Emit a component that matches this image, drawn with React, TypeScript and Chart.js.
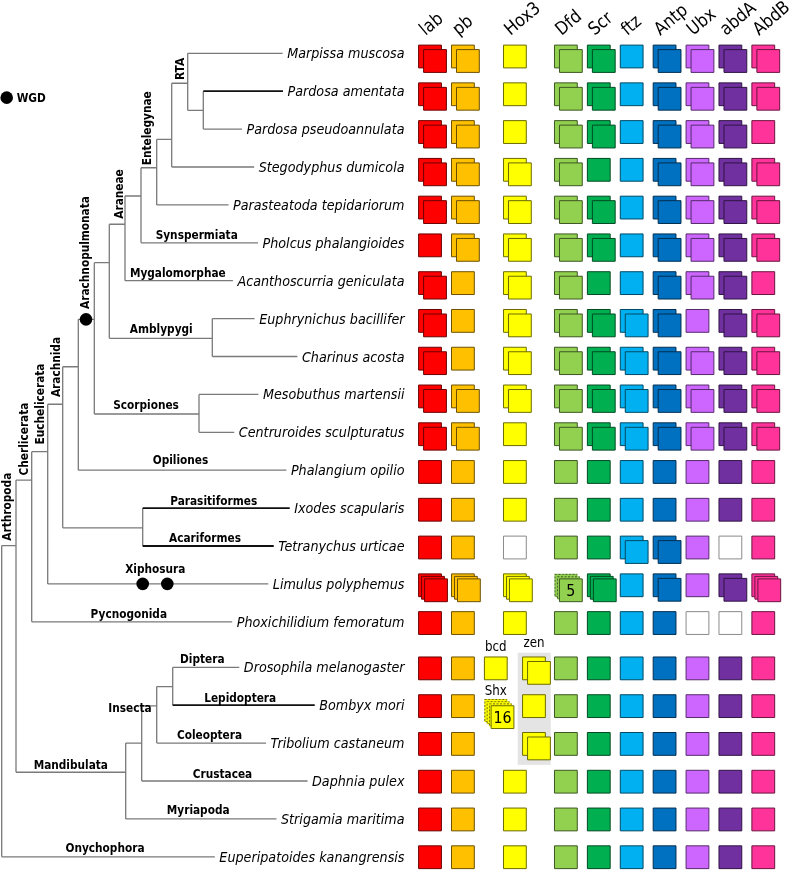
import React, { useEffect, useRef } from 'react';
import { Chart, registerables } from 'chart.js';
Chart.register(...registerables);

// ---------------- data ----------------
const species = [
  'Marpissa muscosa', 'Pardosa amentata', 'Pardosa pseudoannulata', 'Stegodyphus dumicola',
  'Parasteatoda tepidariorum', 'Pholcus phalangioides', 'Acanthoscurria geniculata',
  'Euphrynichus bacillifer', 'Charinus acosta', 'Mesobuthus martensii', 'Centruroides sculpturatus',
  'Phalangium opilio', 'Ixodes scapularis', 'Tetranychus urticae', 'Limulus polyphemus',
  'Phoxichilidium femoratum', 'Drosophila melanogaster', 'Bombyx mori', 'Tribolium castaneum',
  'Daphnia pulex', 'Strigamia maritima', 'Euperipatoides kanangrensis',
];
const firstMandibulateRow = 16;
const groupGap = 0.2;

const genes = ['lab', 'pb', 'Hox3', 'Dfd', 'Scr', 'ftz', 'Antp', 'Ubx', 'abdA', 'AbdB'];
const geneColors = ['#ff0000', '#ffc000', '#ffff00', '#92d050', '#00b050', '#00b0f0', '#0070c0', '#cc66ff', '#7030a0', '#ff3399'];

// copies per species (0 = gene absent, shown as empty box; null = replaced by bcd / zen)
const labCopies = [2, 2, 2, 2, 2, 1, 2, 2, 2, 2, 2, 1, 1, 1, 3, 1, 1, 1, 1, 1, 1, 1];
const pbCopies = [2, 2, 2, 2, 2, 2, 1, 1, 1, 2, 2, 1, 1, 1, 3, 1, 1, 1, 1, 1, 1, 1];
const hox3Copies = [1, 1, 1, 2, 2, 2, 2, 2, 2, 2, 1, 1, 1, 0, 3, 1, null, null, null, 1, 1, 1];
const dfdCopies = [2, 2, 2, 2, 2, 2, 2, 2, 2, 2, 2, 1, 1, 1, 5, 1, 1, 1, 1, 1, 1, 1];
const scrCopies = [2, 2, 2, 1, 2, 2, 1, 2, 2, 2, 2, 1, 1, 1, 3, 1, 1, 1, 1, 1, 1, 1];
const ftzCopies = [1, 1, 1, 1, 1, 1, 1, 2, 2, 2, 2, 1, 1, 2, 1, 1, 1, 1, 1, 1, 1, 1];
const antpCopies = [2, 2, 2, 2, 2, 2, 2, 2, 2, 2, 2, 1, 1, 2, 2, 1, 1, 1, 1, 1, 1, 1];
const ubxCopies = [2, 2, 2, 2, 2, 2, 2, 1, 2, 2, 2, 1, 1, 1, 1, 0, 1, 1, 1, 1, 1, 1];
const abdACopies = [2, 2, 2, 2, 2, 2, 2, 2, 2, 2, 2, 1, 1, 0, 2, 0, 1, 1, 1, 1, 1, 1];
const abdBCopies = [2, 2, 1, 2, 2, 2, 1, 2, 2, 2, 2, 1, 1, 1, 3, 1, 1, 1, 1, 1, 1, 1];
const geneCopies = [labCopies, pbCopies, hox3Copies, dfdCopies, scrCopies, ftzCopies, antpCopies, ubxCopies, abdACopies, abdBCopies];

// insect Hox3-derived genes
const bcdRows = [16];
const bcdCopies = [1];
const zenRows = [16, 17, 18];
const zenCopies = [2, 1, 2];
const shxRows = [17];
const shxCopies = [16];

// whole genome duplication events: [depth, row]
const wgdDepth = [86, 142.7, 167.3];
const wgdRow = [7.02, 14, 14];

// ---------------- layout constants ----------------
const SX = 0.88; // horizontal condensing of DejaVu to mimic Tahoma
const FAM = '"DejaVu Sans", Verdana, sans-serif';
const SPECIES_FONT = `italic 14.5px ${FAM}`;
const CLADE_FONT = `bold 12px ${FAM}`;
const HEAD_FONT = `18px ${FAM}`;
const SMALL_FONT = `13.5px ${FAM}`;
const LABEL_RIGHT = 404.5;
const TIP_GAP = 4.5;

const geneSlot = [0, 1, 2.58, 4.13, 5.13, 6.13, 7.13, 8.13, 9.13, 10.13];
const bcdSlot = 2.0, zenSlot = 3.16, shxSlot = 2.0;

// tree scales (x in px depth, y in rows)
const TREE_Y0 = 53.3, TREE_DY = 37.9;
// table scales
const TAB_X0 = 430, TAB_DX = 32.9, TAB_Y0 = 56.5, TAB_DY = 37.77;
const W = 794, H = 870;
const SQ = 22.8;

const rowPos = (i: number) => i + (i >= firstMandibulateRow ? groupGap : 0);

type TNode = { x: number; y: number; kids: (TNode | number)[] };
const N = (x: number, y: number, kids: (TNode | number)[]): TNode => ({ x, y, kids });

// tree: internal node depth (px) and attachment row
const tree = N(1.7, 0, [
  N(16, 12.99, [ // Arthropoda
    N(31.7, 11.26, [ // Chelicerata
      N(47.7, 10.51, [ // Euchelicerata
        N(62.7, 9.26, [ // Arachnida
          N(78.3, 8.27, [
            N(94.3, 7.02, [ // Arachnopulmonata
              N(109.3, 5.525, [
                N(125, 4.51, [ // Araneae
                  N(141, 3.765, [
                    N(156.7, 3.02, [ // Entelegynae
                      N(171.7, 2.27, [
                        N(187.7, 0.79, [0, N(203.3, 1.504, [1, 2])]), // RTA
                        3,
                      ]),
                      4,
                    ]),
                    5,
                  ]),
                  6,
                ]),
                N(212.3, 7.52, [7, 8]), // Amblypygi
              ]),
              N(199, 9.517, [9, 10]), // Scorpiones
            ]),
            11,
          ]),
          N(142.7, 12.52, [12, 13]), // Acari
        ]),
        14,
      ]),
      15,
    ]),
    N(125.7, 18.97, [ // Mandibulata
      N(141.7, 18.2, [
        N(156.7, 17.22, [ // Insecta
          N(172.7, 16.71, [16, 17]),
          18,
        ]),
        19,
      ]),
      20,
    ]),
  ]),
  21,
]);
const darkTips = [1, 12, 13, 17];

// clade labels: text, centre x (px), baseline row
const hLabels = ['Synspermiata', 'Mygalomorphae', 'Amblypygi', 'Scorpiones', 'Opiliones', 'Parasitiformes', 'Acariformes', 'Xiphosura', 'Pycnogonida', 'Diptera', 'Lepidoptera', 'Insecta', 'Coleoptera', 'Mandibulata', 'Crustacea', 'Myriapoda', 'Onychophora'];
const hLabelX = [196.7, 177.8, 161.3, 146, 180.5, 213.7, 205, 155.3, 128.8, 202.3, 240.2, 130, 209.5, 70.8, 222.5, 198.2, 105];
const hLabelRow = [4.89, 5.9, 7.37, 9.375, 10.844, 11.926, 12.884, 13.72, 14.889, 16.095, 17.116, 17.38, 18.1, 18.873, 19.129, 20.079, 21.074];
const vLabels = ['RTA', 'Entelegynae', 'Araneae', 'Arachnopulmonata', 'Arachnida', 'Euchelicerata', 'Cherlicerata', 'Arthropoda'];
const vLabelX = [180, 146.7, 118.3, 84.3, 56, 40, 24, 6.7];
const vLabelRow = [0.414, 1.979, 3.712, 5.256, 8.277, 9.253, 10.177, 11.963];

// ---------------- helpers ----------------
function darken(hex: string, f: number) {
  const n = parseInt(hex.slice(1), 16);
  const r = Math.round(((n >> 16) & 255) * f);
  const g = Math.round(((n >> 8) & 255) * f);
  const b = Math.round((n & 255) * f);
  return `rgb(${r},${g},${b})`;
}
const dashCache: Record<string, HTMLCanvasElement> = {};
function dashedSquare(fill: string, border: string) {
  const key = fill + border;
  if (dashCache[key]) return dashCache[key];
  const c = document.createElement('canvas');
  c.width = 25; c.height = 25;
  const g = c.getContext('2d')!;
  g.fillStyle = fill;
  g.fillRect(1, 1, 23, 23);
  g.strokeStyle = border;
  g.lineWidth = 1;
  g.setLineDash([2, 1.5]);
  g.strokeRect(1.5, 1.5, 22, 22);
  dashCache[key] = c;
  return c;
}

type Sq = { x: number; y: number; fill: string; border: string; dashed: boolean; label?: string };

function offsetsFor(n: number): number[][] {
  if (n === 2) return [[0, 0], [5, 4.5]];
  if (n === 3) return [[0, 0], [3, 2.5], [6, 5]];
  if (n > 3 && n < 10) return [[0, 0], [2.5, 2.5], [5, 5]];
  if (n >= 10) return [[0, 0], [2.3, 2.2], [4.6, 4.4], [6.7, 6.7]];
  return [[0, 0]];
}

function buildSquares() {
  const layers: Sq[][] = [[], [], [], []];
  const add = (slot: number, row: number, n: number | null, color: string, shiftY = 0) => {
    if (n === null || n === undefined) return;
    const lost = n === 0;
    const fill = lost ? '#ffffff' : color;
    const border = lost ? '#8a8a8a' : darken(color, 0.42);
    const offs = offsetsFor(lost ? 1 : n);
    offs.forEach((o, k) => {
      const front = k === offs.length - 1;
      layers[k].push({
        x: slot + o[0] / TAB_DX,
        y: rowPos(row) + (o[1] + shiftY) / TAB_DY,
        fill, border,
        dashed: n > 3 && !front,
        label: n > 3 && front ? String(n) : undefined,
      });
    });
  };
  species.forEach((_, r) => {
    genes.forEach((_, g) => add(geneSlot[g], r, geneCopies[g][r], geneColors[g]));
  });
  bcdRows.forEach((r, i) => add(bcdSlot, r, bcdCopies[i], geneColors[2]));
  zenRows.forEach((r, i) => add(zenSlot, r, zenCopies[i], geneColors[2]));
  shxRows.forEach((r, i) => add(shxSlot, r, shxCopies[i], geneColors[2], 4.3));
  return layers;
}

function buildTree(tipEnd: number[]) {
  const gray: any[] = [];
  const dark: any[] = [];
  const gap = { x: NaN, y: NaN };
  const seg = (arr: any[], x1: number, y1: number, x2: number, y2: number) => {
    arr.push({ x: x1, y: y1 }, { x: x2, y: y2 }, gap);
  };
  const walk = (n: TNode) => {
    const ys: number[] = [];
    n.kids.forEach((k) => {
      if (typeof k === 'number') {
        const y = rowPos(k);
        ys.push(y);
        seg(darkTips.includes(k) ? dark : gray, n.x, y, tipEnd[k], y);
      } else {
        ys.push(k.y);
        seg(gray, n.x, k.y, k.x, k.y);
        walk(k);
      }
    });
    seg(gray, n.x, Math.min(...ys), n.x, Math.max(...ys));
  };
  walk(tree);
  return { gray, dark };
}

function drawText(ctx: CanvasRenderingContext2D, text: string, x: number, y: number, font: string, align: CanvasTextAlign, rot = 0, sx = SX) {
  ctx.save();
  ctx.translate(x, y);
  if (rot) ctx.rotate(rot);
  ctx.scale(sx, 1);
  ctx.font = font;
  ctx.textAlign = align;
  ctx.textBaseline = 'alphabetic';
  ctx.fillStyle = '#000';
  ctx.fillText(text, 0, 0);
  ctx.restore();
}

export default function App() {
  const ref = useRef<HTMLCanvasElement>(null);
  useEffect(() => {
    const canvas = ref.current!;
    const m = document.createElement('canvas').getContext('2d')!;
    m.font = SPECIES_FONT;
    const tipEnd = species.map((s) => LABEL_RIGHT - m.measureText(s).width * SX - TIP_GAP);
    const { gray, dark } = buildTree(tipEnd);
    const layers = buildSquares();

    const squareDatasets = layers.map((pts, k) => ({
      type: 'scatter' as const,
      xAxisID: 'xH', yAxisID: 'yH',
      data: pts,
      order: 50 - k,
      showLine: false,
      clip: false,
      pointStyle: (c: any) => {
        const p = pts[c.dataIndex];
        return p && p.dashed ? dashedSquare(p.fill, p.border) : 'rect';
      },
      pointRadius: SQ / Math.SQRT2,
      pointBackgroundColor: (c: any) => (pts[c.dataIndex] ? pts[c.dataIndex].fill : '#000'),
      pointBorderColor: (c: any) => (pts[c.dataIndex] ? pts[c.dataIndex].border : '#000'),
      pointBorderWidth: 1,
    }));

    const textPlugin = {
      id: 'texts',
      beforeDatasetsDraw(chart: any) {
        const ctx = chart.ctx as CanvasRenderingContext2D;
        const xH = chart.scales.xH, yH = chart.scales.yH;
        // zen background
        const x1 = xH.getPixelForValue(zenSlot - 0.494), x2 = xH.getPixelForValue(zenSlot + 0.509);
        const y1 = yH.getPixelForValue(rowPos(zenRows[0]) - 0.415);
        const y2 = yH.getPixelForValue(rowPos(zenRows[zenRows.length - 1]) + 0.555);
        ctx.save();
        ctx.fillStyle = '#e4e4e4';
        ctx.fillRect(x1, y1, x2 - x1, y2 - y1);
        ctx.restore();
      },
      afterDatasetsDraw(chart: any) {
        const ctx = chart.ctx as CanvasRenderingContext2D;
        const y = chart.scales.y, xH = chart.scales.xH, yH = chart.scales.yH;
        species.forEach((s, i) => drawText(ctx, s, LABEL_RIGHT, y.getPixelForValue(rowPos(i)) + 5, SPECIES_FONT, 'right'));
        hLabels.forEach((s, i) => drawText(ctx, s, hLabelX[i], y.getPixelForValue(hLabelRow[i]), CLADE_FONT, 'center'));
        vLabels.forEach((s, i) => drawText(ctx, s, vLabelX[i] + 4.3, y.getPixelForValue(vLabelRow[i]), CLADE_FONT, 'center', -Math.PI / 2));
        drawText(ctx, 'WGD', 16.7, y.getPixelForValue(1.285), CLADE_FONT, 'left');
        genes.forEach((g, i) => drawText(ctx, g, xH.getPixelForValue(geneSlot[i]) - SQ / 2 + 7, 36, HEAD_FONT, 'left', -40 * Math.PI / 180));
        drawText(ctx, 'bcd', xH.getPixelForValue(bcdSlot), yH.getPixelForValue(rowPos(bcdRows[0])) - 17.7, SMALL_FONT, 'center');
        drawText(ctx, 'zen', xH.getPixelForValue(zenSlot), yH.getPixelForValue(rowPos(zenRows[0])) - 21.7, SMALL_FONT, 'center');
        drawText(ctx, 'Shx', xH.getPixelForValue(shxSlot), yH.getPixelForValue(rowPos(shxRows[0])) - 11, SMALL_FONT, 'center');
        layers.forEach((pts) => pts.forEach((p) => {
          if (p.label) drawText(ctx, p.label, xH.getPixelForValue(p.x), yH.getPixelForValue(p.y) + 5.5, `15px ${FAM}`, 'center', 0, 0.95);
        }));
      },
    };

    const chart = new Chart(canvas, {
      type: 'scatter',
      data: {
        datasets: [
          { data: gray, showLine: true, borderColor: '#7a7a7a', borderWidth: 1.3, pointRadius: 0, order: 100, xAxisID: 'x', yAxisID: 'y', clip: false } as any,
          { data: dark, showLine: true, borderColor: '#111', borderWidth: 1.8, pointRadius: 0, order: 99, xAxisID: 'x', yAxisID: 'y', clip: false } as any,
          ...squareDatasets,
          {
            data: [{ x: 6.7, y: 1.17 }, ...wgdDepth.map((d, i) => ({ x: d, y: wgdRow[i] }))],
            pointStyle: 'circle', pointRadius: 6.3, pointBackgroundColor: '#000', pointBorderColor: '#000', pointBorderWidth: 0,
            order: 1, xAxisID: 'x', yAxisID: 'y', showLine: false, clip: false,
          } as any,
        ],
      },
      options: {
        animation: false,
        responsive: false,
        maintainAspectRatio: false,
        events: [],
        layout: { padding: 0, autoPadding: false },
        plugins: { legend: { display: false }, tooltip: { enabled: false } },
        scales: {
          x: { type: 'linear', min: 0, max: W, display: false, bounds: 'data' },
          y: { type: 'linear', reverse: true, min: -TREE_Y0 / TREE_DY, max: (H - TREE_Y0) / TREE_DY, display: false, bounds: 'data' },
          xH: { type: 'linear', axis: 'x', min: -TAB_X0 / TAB_DX, max: (W - TAB_X0) / TAB_DX, display: false, bounds: 'data' },
          yH: { type: 'linear', axis: 'y', reverse: true, min: -TAB_Y0 / TAB_DY, max: (H - TAB_Y0) / TAB_DY, display: false, bounds: 'data' },
        },
      } as any,
      plugins: [textPlugin],
    });
    return () => chart.destroy();
  }, []);
  return (
    <div style={{ position: 'absolute', left: 0, top: 0, width: W, height: H, background: '#fff' }}>
      <canvas ref={ref} width={W} height={H} style={{ display: 'block', width: W, height: H }} />
    </div>
  );
}
